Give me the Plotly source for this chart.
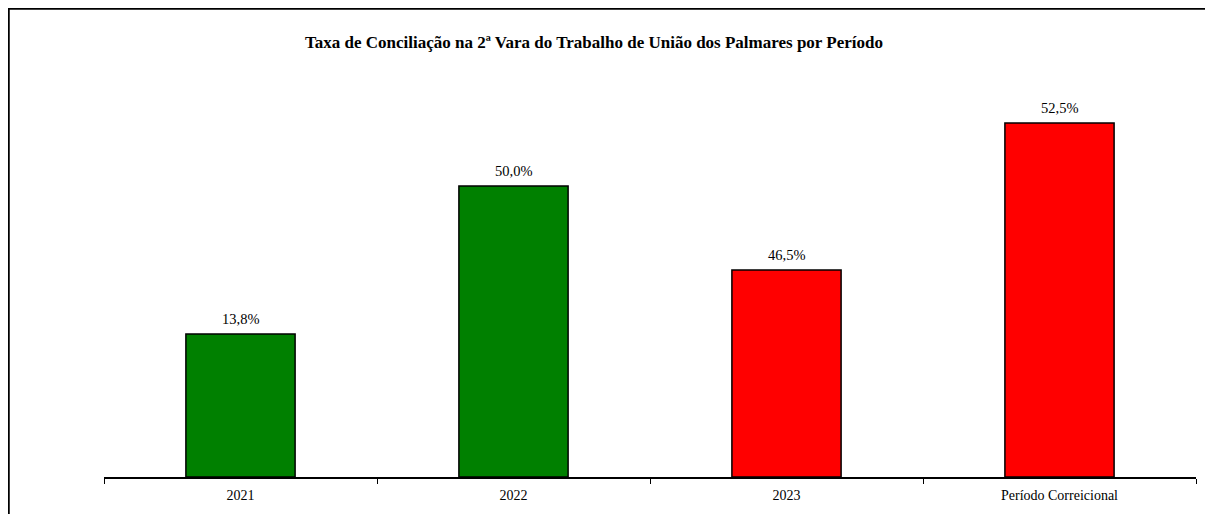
import plotly.graph_objects as go

# ── Data ──────────────────────────────────────────────────────────────────────
periodos = ["2021", "2022", "2023", "Período Correicional"]
# bar heights as drawn in the reference (arbitrary units, not proportional to labels)
alturas = [14.3, 29.1, 20.7, 35.4]
rotulos = ["13,8%", "50,0%", "46,5%", "52,5%"]
cores = ["#008000", "#008000", "#FF0000", "#FF0000"]

titulo = "Taxa de Conciliação na 2ª Vara do Trabalho de União dos Palmares por Período"

# ── Layout geometry (figure pixels; page adds an 8px body margin) ────────────
W, H = 1197, 506
ml, mr, mt, mb = 96, 9, 52, 37
pw, ph = W - ml - mr, H - mt - mb


def px_x(p):
    return (p - ml) / pw


def px_y(p):
    return (H - mb - p) / ph


fonte = dict(family="Liberation Serif, Times New Roman, serif", color="black")

fig = go.Figure(go.Bar(
    x=periodos,
    y=alturas,
    marker=dict(color=cores, line=dict(color="black", width=1.5)),
    hoverinfo="skip",
))

# value labels above the bars (x given as category index)
for i, (a, r) in enumerate(zip(alturas, rotulos)):
    fig.add_annotation(x=i, y=a, text=r, showarrow=False,
                       yanchor="bottom", yshift=5,
                       font=dict(size=14.5, **fonte))

fig.update_layout(
    width=W, height=H,
    margin=dict(l=ml, r=mr, t=mt, b=mb),
    paper_bgcolor="white",
    plot_bgcolor="white",
    bargap=0.6,
    showlegend=False,
    title=dict(
        text="<b>" + titulo + "</b>",
        x=586 / W, xanchor="center",
        y=1 - 34 / H, yanchor="middle",
        yref="container",
        font=dict(size=17, **fonte),
    ),
    font=fonte,
)

fig.update_xaxes(
    type="category",
    range=[-0.5, len(periodos) - 0.5],
    showline=True, linecolor="black", linewidth=1.5,
    ticks="outside", tickson="boundaries", ticklen=5, tickcolor="black", tickwidth=1,
    tickfont=dict(size=14, **fonte),
    ticklabelstandoff=4,
    tickangle=0,
    showgrid=False,
)
fig.update_yaxes(
    range=[0, ph / 10],
    visible=False,
    showgrid=False,
)

# outer frame: only top and left edges are visible in the reference
fig.add_shape(type="line", xref="paper", yref="paper",
              x0=px_x(0), x1=px_x(W), y0=px_y(0.5), y1=px_y(0.5),
              line=dict(color="black", width=2.5))
fig.add_shape(type="line", xref="paper", yref="paper",
              x0=px_x(0.5), x1=px_x(0.5), y0=px_y(0), y1=px_y(H),
              line=dict(color="black", width=2.5))

fig.write_html("out.html", config={"displayModeBar": False})
